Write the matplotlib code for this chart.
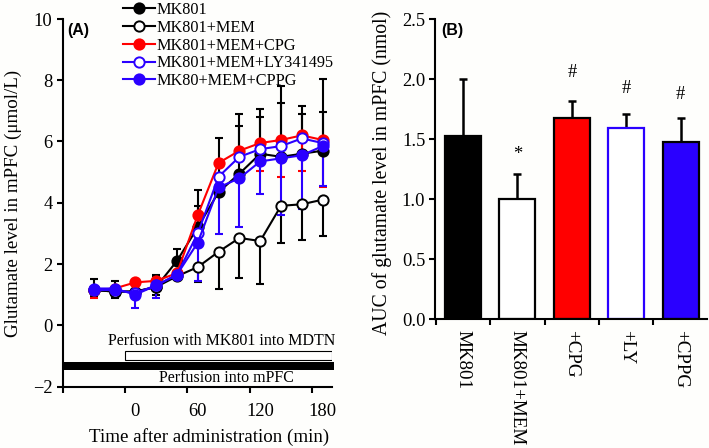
import numpy as np
import matplotlib
matplotlib.use("Agg")
import matplotlib.pyplot as plt

plt.rcParams['font.family'] = ['Liberation Serif', 'DejaVu Serif']

# Panel A: time course
time_min = np.array([-40, -20, 0, 20, 40, 60, 80, 100, 120, 140, 160, 180])
mk801 = np.array([1.15, 1.10, 1.10, 1.25, 2.10, 3.20, 4.35, 4.95, 5.60, 5.50, 5.60, 5.70])
mem = np.array([1.15, 1.10, 1.10, 1.25, 1.60, 1.90, 2.40, 2.85, 2.75, 3.90, 3.95, 4.10])
cpg = np.array([1.15, 1.20, 1.40, 1.45, 1.70, 3.60, 5.30, 5.70, 5.95, 6.05, 6.20, 6.05])
ly = np.array([1.15, 1.15, 1.05, 1.30, 1.65, 3.00, 4.85, 5.50, 5.75, 5.85, 6.10, 5.95])
cppg = np.array([1.20, 1.20, 1.00, 1.30, 1.65, 2.70, 4.50, 4.80, 5.35, 5.45, 5.55, 5.85])

# error bar ends
mk801_hi = np.array([1.52, 1.45, 1.10, 1.65, 2.50, 4.40, 6.10, 6.90, 7.05, 7.80, 7.15, 8.05])
mem_low = np.array([0.95, 0.90, 1.00, 1.00, 1.60, 1.40, 1.20, 1.55, 1.35, 2.70, 2.80, 2.90])
cpg_hi = np.array([1.15, 1.20, 1.40, 1.60, 1.70, 3.90, 5.30, 6.50, 6.80, 7.25, 6.90, 6.95])
cpg_low = np.array([0.90, 0.95, 1.40, 1.20, 1.70, 3.60, 5.30, 5.70, 5.05, 4.85, 5.05, 4.50])
cppg_low = np.array([1.00, 0.95, 0.55, 0.90, 1.50, 1.45, 2.97, 3.20, 4.30, 3.60, 3.80, 4.55])

x_marks = [-70, -10, 50, 110, 170]
x_labels = [0, 60, 120, 180]
y_ticks_a = [-2, 0, 2, 4, 6, 8, 10]

# Panel B: AUC
groups = ["MK801", "MK801+MEM", "+CPG", "+LY", "+CPPG"]
auc = [1.53, 1.00, 1.68, 1.59, 1.48]
auc_top = [2.00, 1.21, 1.82, 1.71, 1.68]
bar_face = ["black", "white", "#ff0000", "white", "#2a00ff"]
bar_edge = ["black", "black", "black", "#2a00ff", "black"]
marks = ["", "*", "#", "#", "#"]
mark_y = [0, 1.30, 1.99, 1.85, 1.80]
y_ticks_b = [0.0, 0.5, 1.0, 1.5, 2.0, 2.5]

W, H = 709, 448
BLUE = "#2a00ff"
bg = "#fefefc"
TICK_FS = 13.3
LABEL_FS = 13.7
fig = plt.figure(figsize=(7.09, 4.48), dpi=100, facecolor=bg)


def axes_px(x0, x1, ytop, ybot):
    a = fig.add_axes([x0 / W, 1 - ybot / H, (x1 - x0) / W, (ybot - ytop) / H])
    a.set_facecolor("none")
    a.spines["top"].set_visible(False)
    a.spines["right"].set_visible(False)
    a.spines["left"].set_linewidth(1.5)
    a.spines["bottom"].set_linewidth(1.5)
    return a


ax = axes_px(62.5, 332, 19, 386.5)
ax.set_xlim(-70, 189)
ax.set_ylim(-2, 10)

# error bars
ebkw = dict(fmt="none", capsize=2.6, elinewidth=1.5, capthick=1.5)
ax.errorbar(time_min, mem, yerr=[mem - mem_low, mem * 0], ecolor="black", zorder=2, **ebkw)
ax.errorbar(time_min, mk801, yerr=[mk801 * 0, mk801_hi - mk801], ecolor="black", zorder=2, **ebkw)
ax.errorbar(time_min, cpg, yerr=[cpg - cpg_low, cpg * 0], ecolor="#ff0000", zorder=2, **ebkw)
ax.errorbar(time_min, cpg, yerr=[cpg * 0, cpg_hi - cpg], ecolor="black", zorder=2, **ebkw)
ax.errorbar(time_min, cppg, yerr=[cppg - cppg_low, cppg * 0], ecolor=BLUE, zorder=2, **ebkw)

lk = dict(lw=1.5, ms=7.4, mew=1.4, zorder=3)
ax.plot(time_min, mk801, "-o", color="black", label="MK801", **lk)
ax.plot(time_min, mem, "-o", color="black", mfc="white", label="MK801+MEM", **lk)
ax.plot(time_min, cpg, "-o", color="#ff0000", label="MK801+MEM+CPG", **lk)
ax.plot(time_min, ly, "-o", color=BLUE, mfc="white", label="MK801+MEM+LY341495", **lk)
ax.plot(time_min, cppg, "-o", color=BLUE, label="MK80+MEM+CPPG", **lk)

# perfusion bars
ax.barh(-1.0, 199, left=-10, height=0.29, facecolor="white", edgecolor="black", lw=0.8, zorder=2)
ax.barh(-1.335, 261, left=-70, height=0.27, color="black", zorder=2, clip_on=False)
ax.text(83, -0.51, "Perfusion with MK801 into MDTN", fontsize=11.5, ha="center", va="center")
ax.text(88, -1.72, "Perfusion into mPFC", fontsize=11.5, ha="center", va="center")

ax.set_xticks(x_marks, minor=True)
ax.set_xticks(x_labels, [str(v) for v in x_labels], fontsize=TICK_FS)
ax.tick_params(axis="x", which="major", length=0, pad=12)
ax.tick_params(axis="x", which="minor", direction="out", length=4.2, width=1.5)
ax.set_yticks(y_ticks_a, [str(v).replace("-", "\u2212") for v in y_ticks_a], fontsize=TICK_FS)
ax.tick_params(axis="y", direction="out", length=4.2, width=1.5, pad=3)
ax.set_xlabel("Time after administration (min)", fontsize=LABEL_FS)
ax.xaxis.set_label_coords(209.5 / W, 1 - 437.5 / H, transform=fig.transFigure)
ax.xaxis.label.set_va("center")
ax.set_ylabel("Glutamate level in mPFC (\u03bcmol/L)", fontsize=LABEL_FS)
ax.yaxis.set_label_coords(13 / W, 1 - 203 / H, transform=fig.transFigure)
ax.yaxis.label.set_va("center")
ax.text(67 / W, 1 - 30 / H, "(A)", transform=fig.transFigure, family="Liberation Sans",
        fontweight="bold", fontsize=11.5, va="center")

ax.legend(loc="upper left", bbox_to_anchor=(123 / W, 1 - 2 / H), bbox_transform=fig.transFigure,
          frameon=False, fontsize=11.7, labelspacing=0.11, handlelength=1.96, handletextpad=0.12,
          borderpad=0, borderaxespad=0)

# panel B
bx = axes_px(435, 707, 19.3, 319.3)
pos = np.arange(len(groups))
bx.set_xlim(-0.515, 4.485)
bx.set_ylim(0, 2.5)
auc = np.array(auc)
auc_top = np.array(auc_top)
bx.errorbar(pos, auc, yerr=[auc * 0, auc_top - auc], fmt="none", ecolor="black",
            capsize=2.6, elinewidth=1.8, capthick=1.8, zorder=1)
bx.bar(pos, auc, width=0.66, color=bar_face, edgecolor=bar_edge, linewidth=1.6, zorder=2)
for p, m, my in zip(pos, marks, mark_y):
    if m:
        bx.text(p, my, m, ha="center", va="bottom", fontsize=TICK_FS)

bx.set_xticks(pos - 0.5, minor=True)
bx.set_xticks(pos, groups, rotation=-90, fontsize=LABEL_FS, minor=False)
bx.tick_params(axis="x", which="major", length=0, pad=8)
bx.tick_params(axis="x", which="minor", direction="out", length=4, width=1.5)
bx.set_yticks(y_ticks_b, [f"{v:.1f}" for v in y_ticks_b], fontsize=TICK_FS)
bx.tick_params(axis="y", direction="out", length=4, width=1.5, pad=3)
bx.set_ylabel("AUC of glutamate level in mPFC (nmol)", fontsize=14.2)
bx.yaxis.set_label_coords(382 / W, 1 - 173 / H, transform=fig.transFigure)
bx.yaxis.label.set_va("center")
bx.text(441 / W, 1 - 30 / H, "(B)", transform=fig.transFigure, family="Liberation Sans",
        fontweight="bold", fontsize=11.5, va="center")

fig.savefig("out.png", dpi=100, facecolor=bg)
